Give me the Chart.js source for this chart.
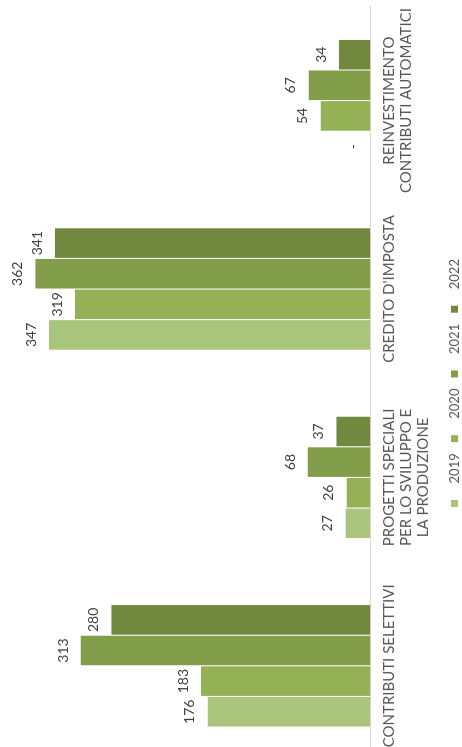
<!DOCTYPE html>
<html>
<head>
<meta charset="utf-8">
<script src="https://cdn.jsdelivr.net/npm/chart.js@4"></script>
<style>
html, body { margin: 0; padding: 0; background: #fff; overflow: hidden; width: 462px; height: 747px; }
/* the chart is drawn upright and turned a quarter turn to the left */
#wrap { position: absolute; left: 0; top: 0; width: 770px; height: 471px; transform-origin: 0 0; transform: translate(0px, 767px) rotate(-90deg); }
</style>
</head>
<body>
<div id="wrap"><canvas id="chart" width="770" height="471" style="width:770px;height:471px"></canvas></div>
<script>
const categories = [
    ['CONTRIBUTI SELETTIVI'],
    ['PROGETTI SPECIALI', 'PER LO SVILUPPO E', 'LA PRODUZIONE'],
    ["CREDITO D'IMPOSTA"],
    ['REINVESTIMENTO', 'CONTRIBUTI AUTOMATICI']
];
const years = ['2019', '2020', '2021', '2022'];
const values2019 = [176, 27, 347, 0];
const values2020 = [183, 26, 319, 54];
const values2021 = [313, 68, 362, 67];
const values2022 = [280, 37, 341, 34];
const colors = ['#a9c47b', '#95b155', '#839e4a', '#71893e'];

// value labels above each bar, '-' for zero
const valueLabels = {
    id: 'valueLabels',
    afterDatasetsDraw(chart) {
        const ctx = chart.ctx;
        ctx.save();
        ctx.font = '14px Lato';
        ctx.fillStyle = '#404040';
        ctx.textAlign = 'center';
        ctx.textBaseline = 'alphabetic';
        chart.data.datasets.forEach((ds, i) => {
            chart.getDatasetMeta(i).data.forEach((bar, j) => {
                const v = ds.data[j];
                ctx.fillText(v === 0 ? '-' : String(v), bar.x, bar.y - 13);
            });
        });
        ctx.restore();
    }
};

const series = [values2019, values2020, values2021, values2022];

new Chart(document.getElementById('chart'), {
    type: 'bar',
    data: {
        labels: categories,
        datasets: series.map((data, i) => ({
            label: years[i],
            data: data,
            backgroundColor: colors[i],
            borderColor: '#ffffff',
            borderWidth: { left: 0.5, right: 0.5, top: 0, bottom: 0 },
            borderSkipped: false,
            categoryPercentage: 0.65,
            barPercentage: 1.0
        }))
    },
    options: {
        responsive: false,
        animation: false,
        devicePixelRatio: 1,
        layout: { padding: { left: 7, right: 9, top: 0, bottom: 0 } },
        plugins: {
            tooltip: { enabled: false },
            legend: {
                position: 'bottom',
                labels: {
                    boxWidth: 7,
                    boxHeight: 7,
                    padding: 11.1,
                    color: '#595959',
                    font: { family: 'Lato', size: 13 },
                    generateLabels: (chart) => chart.data.datasets.map((ds, i) => ({
                        text: '   ' + ds.label,
                        fillStyle: ds.backgroundColor,
                        strokeStyle: ds.backgroundColor,
                        lineWidth: 0,
                        fontColor: '#595959',
                        datasetIndex: i
                    }))
                }
            }
        },
        scales: {
            x: {
                grid: { display: false, drawTicks: false },
                border: { display: true, color: '#d9d9d9', width: 1 },
                ticks: {
                    color: '#595959',
                    font: { family: 'Lato', size: 15, lineHeight: 1.13 },
                    padding: 10,
                    maxRotation: 0,
                    autoSkip: false
                },
                afterFit: (scale) => { scale.height = 66.4; }
            },
            y: {
                display: false,
                min: 0,
                max: 400
            }
        }
    },
    plugins: [valueLabels]
});
</script>
</body>
</html>
